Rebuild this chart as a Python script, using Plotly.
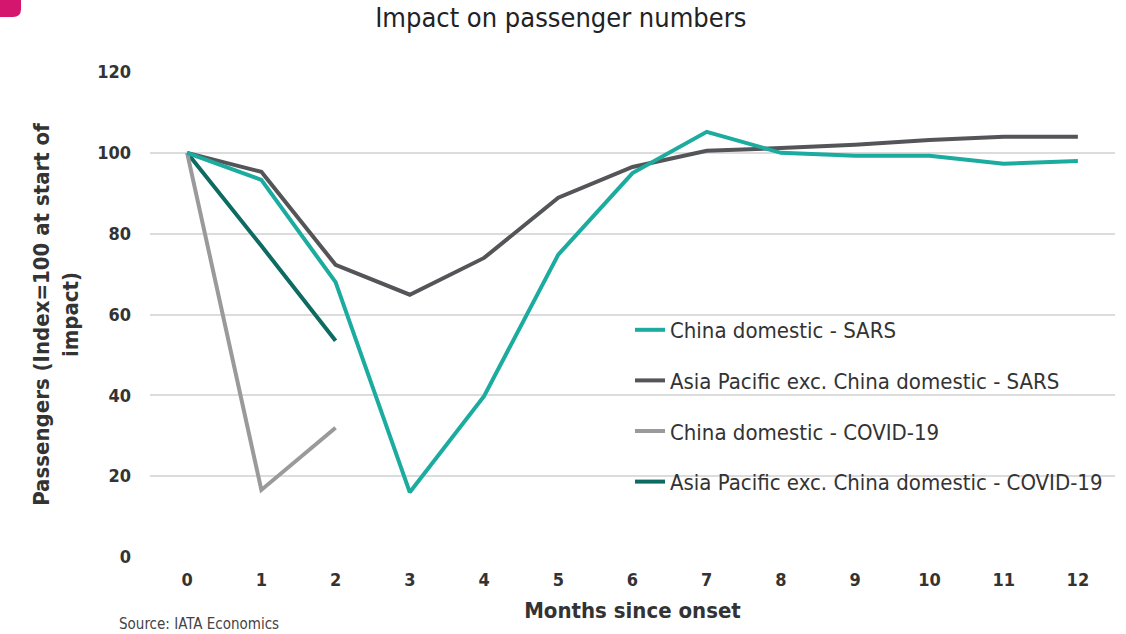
import plotly.graph_objects as go

months = list(range(13))
china_sars = [100, 93.3, 68, 16, 39.8, 74.8, 95, 105.2, 100, 99.3, 99.3, 97.3, 98]
apac_sars = [100, 95.3, 72.3, 64.9, 74, 88.9, 96.5, 100.5, 101.2, 102, 103.2, 104, 104]
covid_months = [0, 1, 2]
china_covid = [100, 16.6, 32]
apac_covid = [100, 77, 53.5]

names = ["China domestic - SARS", "Asia Pacific exc. China domestic - SARS",
         "China domestic - COVID-19", "Asia Pacific exc. China domestic - COVID-19"]
colors = ["#1cab9f", "#545558", "#9a9a9b", "#0d6b61"]

FONT = "DejaVu Sans Condensed, Roboto, sans-serif"

fig = go.Figure()
series = [(months, china_sars), (months, apac_sars), (covid_months, china_covid), (covid_months, apac_covid)]
order = [1, 3, 2, 0]  # drawing order
for i in order:
    xs, ys = series[i]
    fig.add_trace(go.Scatter(x=xs, y=ys, mode="lines", name=names[i],
                             line=dict(color=colors[i], width=4),
                             legendgroup=f"g{i}", legendrank=i + 1))

W, H = 1126, 634
L, R, T, B = 150, 11, 72, 77
pw = W - L - R
ph = H - T - B

fig.update_layout(
    width=W, height=H,
    margin=dict(l=L, r=R, t=T, b=B),
    paper_bgcolor="white", plot_bgcolor="white",
    font=dict(family=FONT, color="#333333"),
    title=dict(text="Impact on passenger numbers", x=0.498, xanchor="center",
               y=1 - 18 / H, yanchor="middle",
               font=dict(size=27, color="#222222", family=FONT)),
    xaxis=dict(range=[-0.5, 12.5], tickmode="array", tickvals=months,
               ticktext=[str(m) for m in months], showgrid=False, zeroline=False,
               showline=False, ticks="", ticklabelstandoff=10,
               tickfont=dict(size=18, color="#333333", family=FONT, weight="bold"),
               title=dict(text="Months since onset", standoff=13,
                          font=dict(size=22, color="#333333", family=FONT, weight="bold"))),
    yaxis=dict(range=[0, 120], tickvals=[0, 20, 40, 60, 80, 100, 120],
               showgrid=True, gridcolor="#dcdcdc", gridwidth=2, zeroline=False,
               showline=False, ticks="", ticklabelstandoff=18,
               tickfont=dict(size=18, color="#333333", family=FONT, weight="bold"),
               title=dict(text="Passengers (Index=100 at start of<br>impact)", standoff=12,
                          font=dict(size=22, color="#333333", family=FONT, weight="bold"))),
    legend=dict(x=(630 - L) / pw, xanchor="left", y=(H - B - 309) / ph, yanchor="top",
                bgcolor="rgba(0,0,0,0)", font=dict(size=22, color="#333333", family=FONT),
                tracegroupgap=19, traceorder="grouped"),
    showlegend=True,
)

fig.add_annotation(text="Source: IATA Economics", xref="paper", yref="paper",
                   x=(117 - L) / pw, y=-(624 - (H - B)) / ph, xanchor="left", yanchor="middle",
                   showarrow=False, font=dict(size=15, color="#444444", family=FONT))

# pink corner mark
fig.add_shape(type="path", xref="paper", yref="paper",
              path=f"M {(0 - L)/pw},{1 + T/ph} L {(21 - L)/pw},{1 + T/ph} L {(21 - L)/pw},{1 + (T-9)/ph} "
                   f"Q {(21 - L)/pw},{1 + (T-17)/ph} {(13 - L)/pw},{1 + (T-17)/ph} L {(0 - L)/pw},{1 + (T-17)/ph} Z",
              fillcolor="#d4166e", line=dict(width=0))

fig.write_html("out.html")
